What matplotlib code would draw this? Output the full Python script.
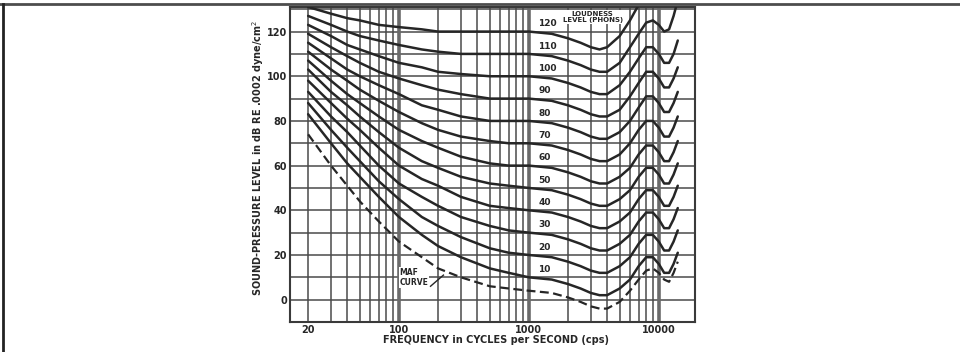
import numpy as np
import matplotlib.pyplot as plt
from matplotlib.lines import Line2D

freq = [20, 30, 40, 50, 70, 100, 150, 200, 300, 500, 700, 1000,
        1500, 2000, 2500, 3000, 3500, 4000, 5000, 6000, 7000, 8000,
        9000, 10000, 11000, 12000, 13000, 14000]

nan = np.nan
maf = [74, 60, 51, 44, 35, 26, 19, 14, 10, 6, 5, 4,
       3, 1, -1, -3, -4, -4, -1, 4, 9, 13, 14, 12, 9, 8, 12, 17]
phon_10 = [83, 70, 61, 55, 46, 37, 29, 24, 19, 14, 12, 10,
           9, 7, 5, 3, 2, 2, 5, 9, 15, 19, 19, 16, 12, 12, 16, 21]
phon_20 = [88, 76, 68, 62, 53, 45, 37, 33, 28, 23, 21, 20,
           19, 17, 15, 13, 12, 12, 15, 19, 25, 29, 29, 26, 22, 22, 26, 31]
phon_30 = [93, 82, 75, 69, 60, 52, 46, 42, 37, 33, 31, 30,
           29, 27, 25, 23, 22, 22, 25, 29, 35, 39, 39, 36, 32, 32, 36, 41]
phon_40 = [98, 88, 81, 76, 68, 60, 54, 51, 46, 42, 41, 40,
           39, 37, 35, 33, 32, 32, 35, 39, 45, 49, 49, 46, 42, 42, 46, 51]
phon_50 = [103, 93, 87, 82, 75, 68, 62, 59, 55, 52, 51, 50,
           49, 47, 45, 43, 42, 42, 45, 49, 55, 59, 59, 56, 52, 52, 56, 61]
phon_60 = [107, 98, 92, 88, 82, 76, 71, 68, 64, 61, 60, 60,
           59, 57, 55, 53, 52, 52, 55, 59, 65, 69, 69, 66, 62, 62, 66, 71]
phon_70 = [111, 103, 98, 94, 89, 84, 79, 76, 73, 71, 70, 70,
           69, 67, 65, 63, 62, 62, 65, 70, 76, 80, 80, 77, 73, 73, 77, 82]
phon_80 = [115, 108, 103, 100, 96, 92, 87, 85, 82, 80, 80, 80,
           79, 77, 75, 73, 72, 72, 75, 80, 86, 91, 91, 88, 84, 84, 88, 93]
phon_90 = [119, 113, 109, 106, 102, 99, 96, 94, 92, 90, 90, 90,
           89, 87, 85, 83, 82, 82, 85, 91, 97, 102, 102, 99, 95, 95, 99, 104]
phon_100 = [123, 118, 114, 112, 109, 106, 104, 102, 101, 100, 100, 100,
            99, 97, 95, 93, 92, 92, 96, 102, 108, 113, 113, 110, 106, 106, 110, 116]
phon_110 = [127, 123, 120, 118, 116, 114, 112, 111, 110, 110, 110, 110,
            109, 107, 105, 103, 102, 102, 106, 113, 119, 124, 125, 123, 120, 121, 127, 134]
phon_120 = [131, 128, 126, 125, 123, 122, 121, 120, 120, 120, 120, 120,
            119, 117, 115, 113, 112, 113, 118, 125, 132, 138, nan, nan, nan, nan, nan, nan]

contours = [phon_10, phon_20, phon_30, phon_40, phon_50, phon_60,
            phon_70, phon_80, phon_90, phon_100, phon_110, phon_120]
phon_levels = [10, 20, 30, 40, 50, 60, 70, 80, 90, 100, 110, 120]

x_ticks = [20, 100, 1000, 10000]
x_tick_labels = ["20", "100", "1000", "10000"]
y_ticks = [0, 20, 40, 60, 80, 100, 120]

ink = "#262626"
grid_col = "#4a4a4a"

fig = plt.figure(figsize=(9.6, 3.52), dpi=100)
ax = fig.add_axes([290 / 960, 30 / 352, 405 / 960, 315 / 352])

# grid: every 10 dB, and 1-9 per decade
for db in range(-10, 131, 10):
    ax.axhline(db, color=grid_col, lw=1.1, zorder=1)
for dec in [10, 100, 1000, 10000]:
    for k in range(1, 10):
        f = dec * k
        if 14.5 < f < 19000:
            if k == 1:
                ax.axvline(f, color="#6a6a6a", lw=2.6, zorder=1)
            else:
                ax.axvline(f, color=grid_col, lw=1.1, zorder=1)

for vals in contours:
    ax.plot(freq, vals, color=ink, lw=1.8, zorder=3, solid_capstyle="round")
ax.plot(freq, maf, color=ink, lw=1.6, ls=(0, (4, 2)), zorder=3)

# phon labels just right of 1000 cps
for lvl in phon_levels:
    ax.text(1180, lvl + 3.5, str(lvl), fontsize=6.5, fontweight="bold",
            color=ink, va="center", ha="left", zorder=4,
            bbox=dict(facecolor="white", edgecolor="none", pad=0.3, alpha=0.6))

ax.text(3100, 126.5, "LOUDNESS\nLEVEL (PHONS)", fontsize=5, fontweight="bold",
        color=ink, ha="center", va="center", linespacing=1.1, zorder=4,
        bbox=dict(facecolor="white", edgecolor="none", pad=0.3))
ax.text(101, 10, "MAF\nCURVE", fontsize=5.5, fontweight="bold", color=ink,
        ha="left", va="center", linespacing=1.2, zorder=4,
        bbox=dict(facecolor="white", edgecolor="none", pad=0.4))
ax.plot([175, 220], [6, 11], color=ink, lw=1.0, zorder=4)

ax.set_xscale("log")
ax.set_xlim(14.5, 19000)
ax.set_ylim(-10, 131)
ax.set_xticks(x_ticks)
ax.set_xticklabels(x_tick_labels)
ax.xaxis.set_minor_locator(plt.NullLocator())
ax.set_yticks(y_ticks)
ax.tick_params(length=0, labelsize=7, pad=2, colors=ink)
for lab in ax.get_xticklabels() + ax.get_yticklabels():
    lab.set_fontweight("bold")
for sp in ax.spines.values():
    sp.set_color("#3a3a3a")
    sp.set_linewidth(1.5)

fig.text(496 / 960, 1 - 340 / 352, "FREQUENCY in CYCLES per SECOND (cps)",
         fontsize=7, fontweight="bold", color=ink, ha="center", va="center")
fig.text(258 / 960, 1 - 158 / 352, "SOUND-PRESSURE LEVEL in dB RE .0002 dyne/cm$^2$",
         fontsize=7, fontweight="bold", color=ink, ha="center", va="center",
         rotation=90)

# outer frame of the picture (top and left edges)
fig.add_artist(Line2D([0, 1], [1 - 4 / 352] * 2, color="#4d4d4d", lw=2))
fig.add_artist(Line2D([3 / 960] * 2, [0, 1 - 4 / 352], color="#222222", lw=2))

fig.savefig("out.png", dpi=100)
